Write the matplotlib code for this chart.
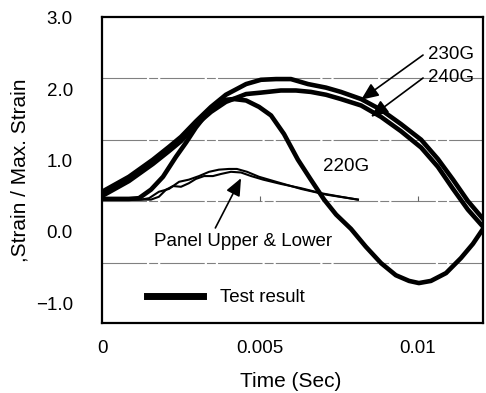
import matplotlib
matplotlib.use("Agg")
import matplotlib.pyplot as plt
from matplotlib.lines import Line2D

plt.rcParams["font.family"] = ["Liberation Sans", "DejaVu Sans"]

# test result curves: time (s) vs strain / max. strain
t_230g = [0, 0.00085, 0.00161, 0.00212, 0.00250, 0.00298, 0.00345, 0.00392,
          0.00456, 0.00503, 0.00551, 0.00598, 0.00652, 0.00709, 0.00756,
          0.00820, 0.00883, 0.00946, 0.01010, 0.01063, 0.01111, 0.01158, 0.01206]
s_230g = [0.56, 0.77, 1.01, 1.19, 1.33, 1.55, 1.75, 1.92, 2.07, 2.13, 2.14,
          2.14, 2.07, 2.02, 1.96, 1.86, 1.71, 1.51, 1.29, 1.02, 0.73, 0.43, 0.18]

t_240g = [0, 0.00085, 0.00161, 0.00212, 0.00250, 0.00298, 0.00345, 0.00392,
          0.00456, 0.00503, 0.00566, 0.00614, 0.00661, 0.00709, 0.00756,
          0.00820, 0.00883, 0.00946, 0.01010, 0.01063, 0.01111, 0.01158, 0.01206]
s_240g = [0.50, 0.71, 0.95, 1.13, 1.27, 1.50, 1.68, 1.82, 1.93, 1.95, 1.98,
          1.98, 1.96, 1.92, 1.86, 1.77, 1.61, 1.41, 1.18, 0.91, 0.60, 0.31, 0.07]

t_220g = [0, 0.00085, 0.00117, 0.00155, 0.00193, 0.00234, 0.00266, 0.00297,
          0.00329, 0.00361, 0.00392, 0.00418, 0.00456, 0.00497, 0.00535,
          0.00576, 0.00620, 0.00661, 0.00703, 0.00741, 0.00788, 0.00835,
          0.00883, 0.00930, 0.00972, 0.01003, 0.01041, 0.01089, 0.01136,
          0.01174, 0.01206]
s_220g = [0.46, 0.46, 0.47, 0.59, 0.77, 1.05, 1.25, 1.46, 1.64, 1.77, 1.85,
          1.86, 1.84, 1.75, 1.63, 1.37, 1.01, 0.73, 0.45, 0.24, 0.04, -0.21,
          -0.44, -0.61, -0.69, -0.72, -0.69, -0.58, -0.37, -0.17, 0.04]

# panel upper & lower (thin lines)
t_upper = [0, 0.00155, 0.00180, 0.00203, 0.00225, 0.00250, 0.00275, 0.00297,
           0.00323, 0.00351, 0.00377, 0.00408, 0.00440, 0.00472, 0.00510,
           0.00566, 0.00630, 0.00693, 0.00756, 0.00810]
s_upper = [0.45, 0.45, 0.49, 0.59, 0.64, 0.63, 0.68, 0.74, 0.78, 0.78, 0.81,
           0.84, 0.83, 0.78, 0.73, 0.67, 0.61, 0.54, 0.49, 0.45]

t_lower = [0, 0.00123, 0.00149, 0.00180, 0.00212, 0.00244, 0.00275, 0.00307,
           0.00339, 0.00370, 0.00402, 0.00427, 0.00459, 0.00497, 0.00551,
           0.00630, 0.00709, 0.00810]
s_lower = [0.45, 0.45, 0.47, 0.56, 0.60, 0.70, 0.73, 0.78, 0.84, 0.87, 0.88,
           0.88, 0.84, 0.77, 0.70, 0.60, 0.52, 0.45]

x_ticks = [0, 0.005, 0.01]
x_tick_labels = ["0", "0.005", "0.01"]
y_ticks = [3, 2, 1, 0, -1]
y_tick_labels = ["3.0", "2.0", "1.0", "0.0", "\u22121.0"]
# the printed gridlines don't sit on the tick labels in the source figure
grid_levels = [2.16, 1.29, 0.43, -0.44]

fig = plt.figure(figsize=(4.86, 3.93), dpi=100)
ax = fig.add_axes([0.2099, 0.1781, 0.784, 0.7786])

for g in grid_levels:
    ax.axhline(g, color="0.5", lw=0.8, ls=(0, (40, 2, 8, 2)), zorder=1)
ax.vlines(x_ticks[1:], grid_levels[2], grid_levels[2] + 0.07,
          color="0.4", lw=0.8, zorder=1)

thick = dict(color="black", lw=3.3, solid_joinstyle="round", zorder=3)
thin = dict(color="black", lw=1.5, solid_joinstyle="round", zorder=3)
ax.plot(t_230g, s_230g, **thick)
ax.plot(t_240g, s_240g, **thick)
ax.plot(t_220g, s_220g, **thick)
ax.plot(t_upper, s_upper, **thin)
ax.plot(t_lower, s_lower, **thin)

ax.set_xlim(0, 0.01206)
ax.set_ylim(-1.28, 3.01)
ax.set_xticks(x_ticks)
ax.set_xticklabels(x_tick_labels)
ax.set_yticks(y_ticks)
ax.set_yticklabels(y_tick_labels)
ax.tick_params(length=0, labelsize=13.5)
ax.tick_params(axis="x", pad=12)
ax.tick_params(axis="y", pad=21)
for sp in ax.spines.values():
    sp.set_linewidth(1.6)

ax.set_xlabel("Time (Sec)", fontsize=15)
ax.xaxis.set_label_coords(0.496, -0.16)
ax.set_ylabel(",Strain / Max. Strain", fontsize=15)
ax.yaxis.label.set_va("center")
ax.yaxis.set_label_coords(-0.215, 0.5)

arrow = dict(arrowstyle="-|>,head_length=0.7,head_width=0.3",
             color="black", lw=1.2, mutation_scale=15,
             relpos=(0, 0.7), shrinkA=2, shrinkB=0)
ax.annotate("230G", xy=(0.0082, 1.85), xytext=(0.01032, 2.48),
            fontsize=13.5, ha="left", va="center", arrowprops=arrow)
ax.annotate("240G", xy=(0.00851, 1.61), xytext=(0.01032, 2.16),
            fontsize=13.5, ha="left", va="center", arrowprops=arrow)
ax.text(0.00772, 0.92, "220G", fontsize=13.5, ha="center", va="center")
ax.annotate("Panel Upper & Lower", xy=(0.0044, 0.75), xytext=(0.00446, -0.14),
            fontsize=13.5, ha="center", va="center",
            arrowprops=dict(arrow, relpos=(0.33, 1.0)))

proxy = Line2D([], [], color="black", lw=5)
ax.legend([proxy], ["Test result"], loc="center left",
          bbox_to_anchor=(0.118, 0.082), frameon=False, fontsize=13.5,
          handlelength=3.0, handletextpad=0.9, borderpad=0, borderaxespad=0)

fig.savefig("out.png", dpi=100)
